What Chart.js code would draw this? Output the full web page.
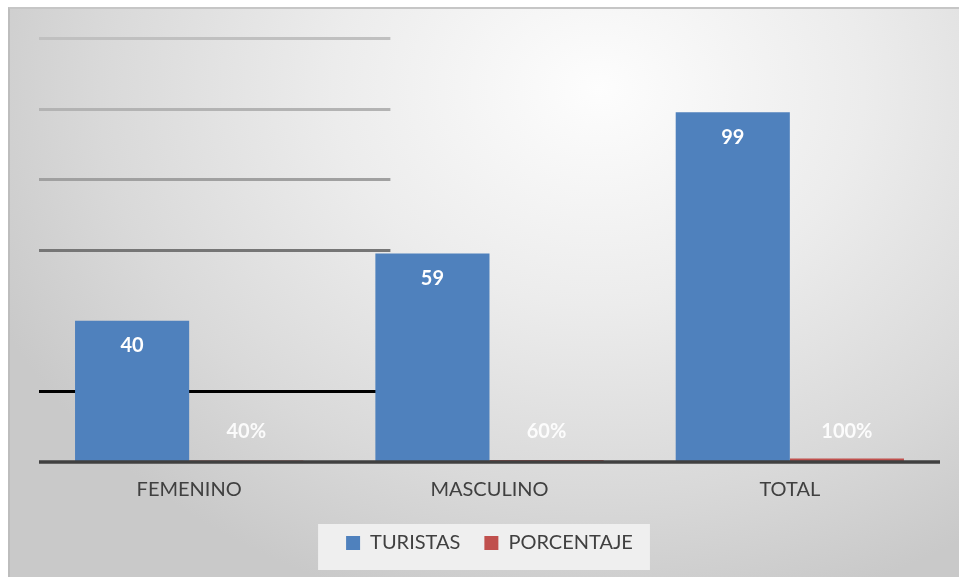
<!DOCTYPE html>
<html>
<head>
<meta charset="utf-8">
<script src="https://cdn.jsdelivr.net/npm/chart.js@4.4.1/dist/chart.umd.min.js"></script>
<style>
  body { margin: 0; background: #fff; }
  #wrap {
    position: absolute; left: 8px; top: 7px; width: 951px; height: 570px;
    box-sizing: border-box;
    border-top: 2px solid #c6c6c6; border-left: 2px solid #bdbdbd;
    background: radial-gradient(ellipse 70% 95% at 62% 14%, #fdfdfd 0%, #ececec 40%, #d9d9d9 75%, #c9c9c9 100%);
  }
</style>
</head>
<body>
<div id="wrap"><canvas id="myChart"></canvas></div>
<script>
const categorias = ['FEMENINO', 'MASCULINO', 'TOTAL'];
const turistas = [40, 59, 99];
const porcentaje = [0.4, 0.6, 1.0];
const yTicks = [0, 20, 40, 60, 80, 100, 120];

// colores de las lineas de grilla (como en la imagen, la de 40 no se ve)
const gridColors = { 20: '#000000', 40: 'rgba(0,0,0,0)', 60: '#767676', 80: '#a0a0a0', 100: '#b3b3b3', 120: '#c0c0c0' };
const FONT = 'Lato, "Liberation Sans", sans-serif';

const ctx = document.getElementById('myChart');

// grilla parcial + fondo de la leyenda
const fondo = {
  id: 'fondo',
  beforeDraw(chart) {
    const c = chart.ctx;
    const lg = chart.legend;
    if (lg && lg.legendHitBoxes.length) {
      const hb = lg.legendHitBoxes;
      const x0 = hb[0].left - 28;
      const x1 = hb[hb.length - 1].left + hb[hb.length - 1].width + 17;
      const yc = hb[0].top + hb[0].height / 2;
      c.save();
      c.fillStyle = '#efefef';
      c.fillRect(x0, yc - 19, x1 - x0, 46);
      c.restore();
    }
  },
  beforeDatasetsDraw(chart) {
    const c = chart.ctx;
    const a = chart.chartArea;
    const y = chart.scales.y;
    const xEnd = a.left + (a.right - a.left) * 0.39;
    c.save();
    c.lineWidth = 3;
    yTicks.forEach(v => {
      if (v === 0) return;
      c.strokeStyle = gridColors[v];
      const py = Math.round(y.getPixelForValue(v)) + 0.5;
      c.beginPath();
      c.moveTo(a.left, py);
      c.lineTo(xEnd, py);
      c.stroke();
    });
    c.restore();
  },
  afterDatasetsDraw(chart) {
    const c = chart.ctx;
    const a = chart.chartArea;
    const y = chart.scales.y;
    const base = y.getPixelForValue(0);
    c.save();
    // eje x
    c.strokeStyle = '#404040';
    c.lineWidth = 3.5;
    c.beginPath();
    c.moveTo(a.left, base);
    c.lineTo(a.right, base);
    c.stroke();
    // etiquetas
    c.textAlign = 'center';
    c.textBaseline = 'middle';
    c.font = 'bold 20px ' + FONT;
    chart.getDatasetMeta(0).data.forEach((bar, i) => {
      c.fillStyle = '#ffffff';
      c.fillText(turistas[i], bar.x, bar.y + 25);
    });
    chart.getDatasetMeta(1).data.forEach((bar, i) => {
      c.fillStyle = 'rgba(255,255,255,0.9)';
      c.fillText(Math.round(porcentaje[i] * 100) + '%', bar.x, base - 30);
    });
    c.restore();
  }
};

new Chart(ctx, {
  type: 'bar',
  data: {
    labels: categorias,
    datasets: [
      {
        label: 'TURISTAS',
        backgroundColor: '#4f81bd',
        data: turistas,
      },
      {
        label: 'PORCENTAJE',
        backgroundColor: '#c0504d',
        data: porcentaje,
      }
    ]
  },
  options: {
    responsive: true,
    maintainAspectRatio: false,
    animation: false,
    datasets: {
      bar: { categoryPercentage: 0.76, barPercentage: 1.0 }
    },
    layout: { padding: { left: 29, right: 19, top: 29, bottom: 14 } },
    scales: {
      x: {
        grid: { display: false },
        border: { display: false },
        ticks: { color: '#404040', font: { family: FONT, size: 20 }, padding: 8 },
        afterFit(scale) { scale.height -= 1; }
      },
      y: {
        display: false,
        min: 0,
        max: 120,
        ticks: { stepSize: 20 }
      }
    },
    plugins: {
      legend: {
        position: 'bottom',
        labels: {
          color: '#404040',
          font: { family: FONT, size: 20 },
          boxWidth: 14,
          boxHeight: 14,
          padding: 24
        }
      },
      tooltip: { enabled: false }
    }
  },
  plugins: [fondo]
});
</script>
</body>
</html>
